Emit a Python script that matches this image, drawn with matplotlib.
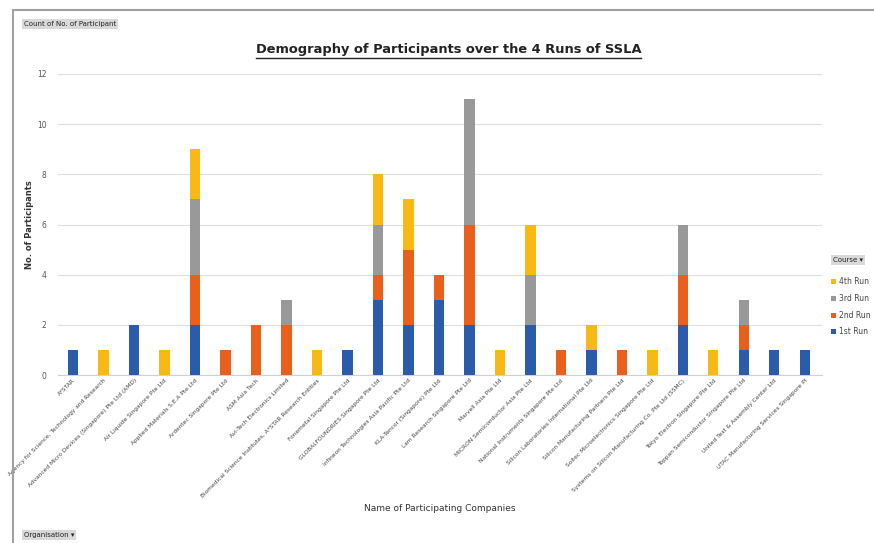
import matplotlib
matplotlib.use("Agg")
import matplotlib.pyplot as plt
from matplotlib.patches import Rectangle
from matplotlib.lines import Line2D
import numpy as np

companies = [
    "A*STAR",
    "Agency for Science, Technology and Research",
    "Advanced Micro Devices (Singapore) Pte Ltd (AMD)",
    "Air Liquide Singapore Pte Ltd",
    "Applied Materials S.E.A Pte Ltd",
    "Ardentec Singapore Pte Ltd",
    "ASM Asia Tech",
    "Avi-Tech Electronics Limited",
    "Biomedical Science Institutes, A*STAR Research Entities",
    "Fonemetal Singapore Pte Ltd",
    "GLOBALFOUNDRIES Singapore Pte Ltd",
    "Infineon Technologies Asia Pacific Pte Ltd",
    "KLA-Tencor (Singapore) Pte Ltd",
    "Lam Research Singapore Pte Ltd",
    "Marvell Asia Pte Ltd",
    "MICRON Semiconductor Asia Pte Ltd",
    "National Instruments Singapore Pte Ltd",
    "Silicon Laboratories International Pte Ltd",
    "Silicon Manufacturing Partners Pte Ltd",
    "Soitec Microelectronics Singapore Pte Ltd",
    "Systems on Silicon Manufacturing Co. Pte Ltd (SSMC)",
    "Tokyo Electron Singapore Pte Ltd",
    "Toppan Semiconductor Singapore Pte Ltd",
    "United Test & Assembly Center Ltd",
    "UTAC Manufacturing Services Singapore Pl",
]

run1 = [1, 0, 2, 0, 2, 0, 0, 0, 0, 1, 3, 2, 3, 2, 0, 2, 0, 1, 0, 0, 2, 0, 1, 1, 1]
run2 = [0, 0, 0, 0, 2, 1, 2, 2, 0, 0, 1, 3, 1, 4, 0, 0, 1, 0, 1, 0, 2, 0, 1, 0, 0]
run3 = [0, 0, 0, 0, 3, 0, 0, 1, 0, 0, 2, 0, 0, 5, 0, 2, 0, 0, 0, 0, 2, 0, 1, 0, 0]
run4 = [0, 1, 0, 1, 2, 0, 0, 0, 1, 0, 2, 2, 0, 0, 1, 2, 0, 1, 0, 1, 0, 1, 0, 0, 0]

series_names = ["1st Run", "2nd Run", "3rd Run", "4th Run"]
colors = ["#2A5CAA", "#E8601C", "#999999", "#F9B915"]

fig = plt.figure(figsize=(8.74, 5.43), dpi=100)
ax = fig.add_axes([0.066, 0.309, 0.874, 0.555])

x = np.arange(len(companies))
bottom = np.zeros(len(companies))
handles = []
for vals, name, c in zip([run1, run2, run3, run4], series_names, colors):
    b = ax.bar(x, vals, 0.34, bottom=bottom, color=c, label=name, zorder=3)
    handles.append(b)
    bottom += np.array(vals)

ax.set_xlim(-0.5, len(companies) - 0.45)
ax.set_ylim(0, 12)
ax.set_yticks(range(0, 13, 2))
ax.grid(axis="y", color="#DDDDDD", linewidth=0.8, zorder=0)
for s in ["top", "right", "left"]:
    ax.spines[s].set_visible(False)
ax.spines["bottom"].set_color("#D0D0D0")
ax.tick_params(axis="y", length=0, labelsize=5.5, labelcolor="#555555", pad=8)
ax.tick_params(axis="x", length=0, pad=2)
ax.set_xticks(x)
ax.set_xticklabels(companies, rotation=45, ha="right", rotation_mode="anchor",
                   fontsize=4.2, color="#444444")
ax.set_ylabel("No. of Participants", fontsize=6, fontweight="bold", color="#333333")
ax.yaxis.set_label_coords(-0.031, 0.5)
fig.text(0.503, 0.063, "Name of Participating Companies", ha="center", va="center",
         fontsize=6.5, color="#333333")

# title with underline
title = fig.text(0.513, 0.908, "Demography of Participants over the 4 Runs of SSLA",
                 ha="center", va="center", fontsize=9.4, fontweight="bold", color="#222222")
fig.canvas.draw()
bb = title.get_window_extent().transformed(fig.transFigure.inverted())
fig.add_artist(Line2D([bb.x0, bb.x1], [bb.y0 - 0.002, bb.y0 - 0.002],
                      transform=fig.transFigure, color="#222222", linewidth=1.0))

# legend
leg = fig.legend(handles[::-1], series_names[::-1], loc="upper left",
                 bbox_to_anchor=(0.947, 0.496), frameon=False, fontsize=5.5,
                 handlelength=0.6, handleheight=0.6, labelspacing=1.0,
                 handletextpad=0.4, borderpad=0)
for t in leg.get_texts():
    t.set_color("#444444")

# outer frame and pivot buttons
fig.add_artist(Rectangle((13 / 874, -0.01), 1.0, 1 - 10 / 543 + 0.01,
                         transform=fig.transFigure, fill=False,
                         edgecolor="#A0A0A0", linewidth=1.5))
fig.text(24 / 874, 1 - 24 / 543, "Count of No. of Participant", fontsize=5,
         va="center", ha="left", color="#222222",
         bbox=dict(boxstyle="square,pad=0.3", fc="#D9D9D9", ec="none"))
fig.text(833 / 874, 1 - 260 / 543, "Course \u25be", fontsize=5, va="center", ha="left",
         color="#222222", bbox=dict(boxstyle="square,pad=0.3", fc="#D9D9D9", ec="none"))
fig.text(24 / 874, 1 - 535 / 543, "Organisation \u25be", fontsize=5, va="center", ha="left",
         color="#222222", bbox=dict(boxstyle="square,pad=0.3", fc="#D9D9D9", ec="none"))

fig.savefig("out.png", dpi=100)
